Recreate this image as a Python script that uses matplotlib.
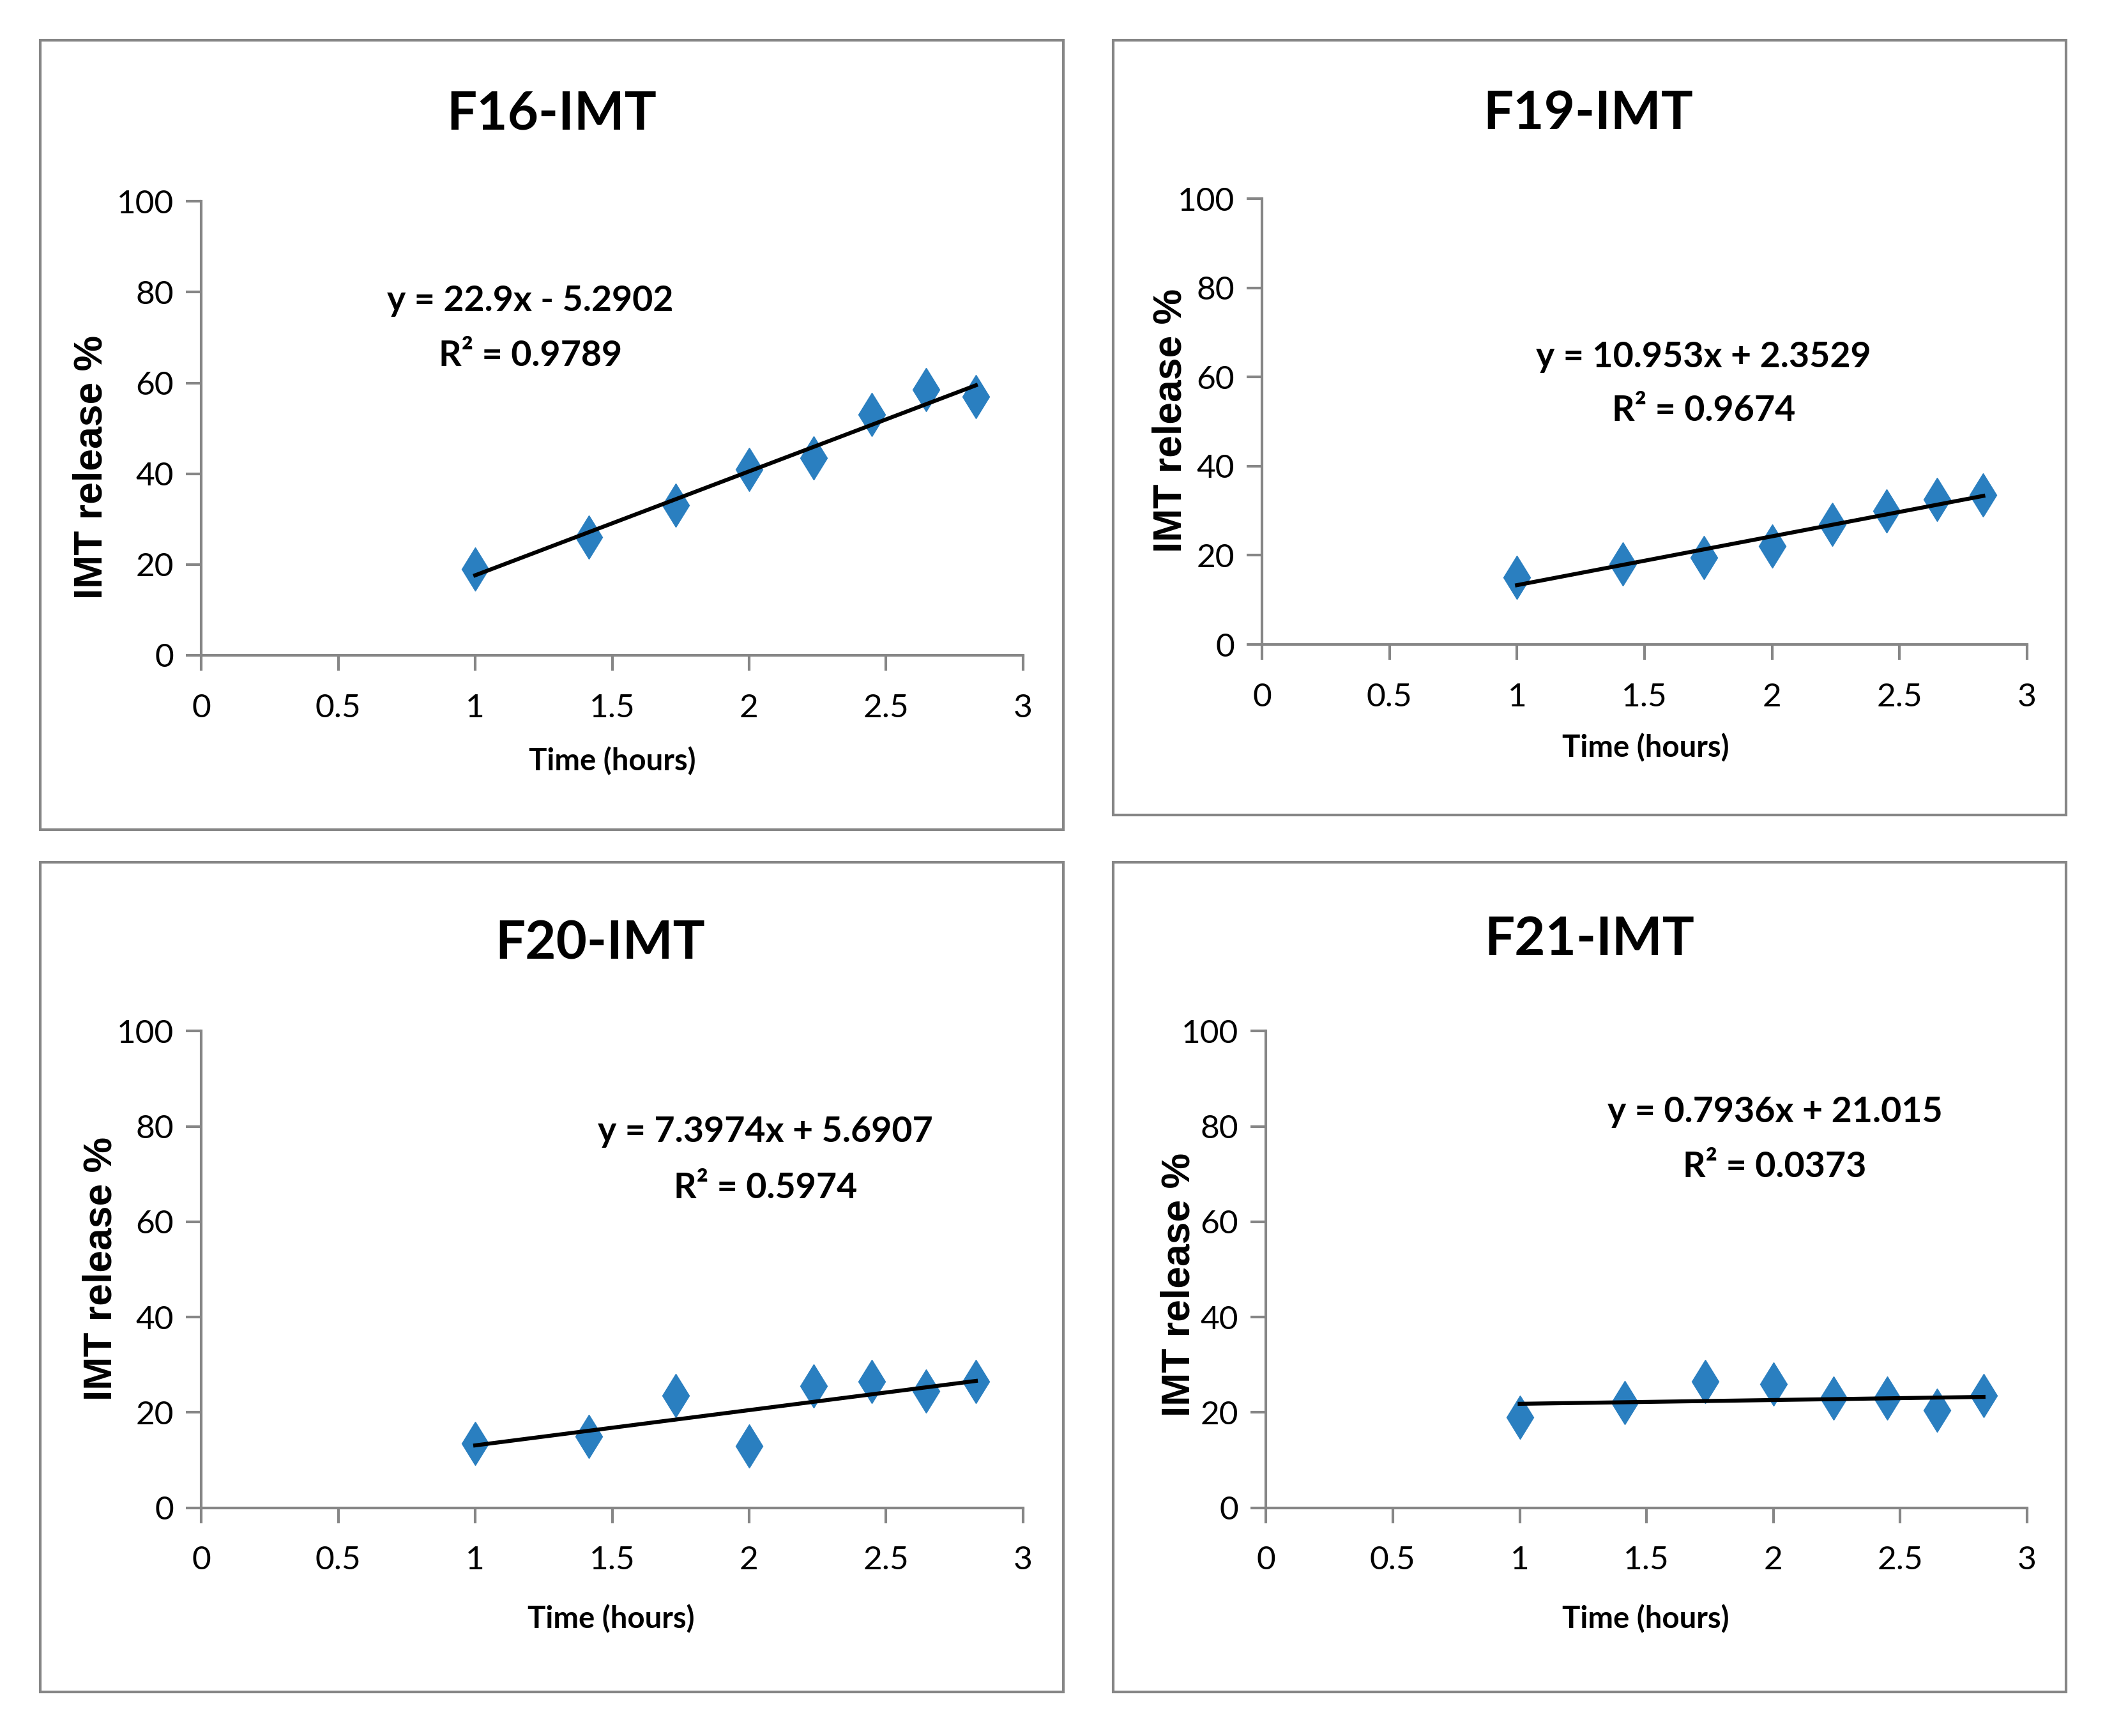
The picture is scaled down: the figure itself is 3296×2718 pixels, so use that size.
import matplotlib
matplotlib.use('Agg')
import matplotlib.pyplot as plt
from matplotlib.patches import Rectangle
import numpy as np

## DATA

titles = ['F16-IMT', 'F19-IMT', 'F20-IMT', 'F21-IMT']
time_x = [1.0, 1.414, 1.732, 2.0, 2.236, 2.449, 2.646, 2.828]
f16 = [19, 26, 33, 41, 43.5, 53, 58.5, 57]
f19 = [15, 18, 19.5, 22, 27, 30, 32.5, 33.5]
f20 = [13.5, 15, 23.5, 13, 25.5, 26.5, 24.5, 26.5]
f21 = [19, 22, 26.5, 26, 23, 23, 20.5, 23.5]
series = [f16, f19, f20, f21]
slopes = [22.9, 10.953, 7.3974, 0.7936]
intercepts = [-5.2902, 2.3529, 5.6907, 21.015]
eq_texts = ['y = 22.9x - 5.2902', 'y = 10.953x + 2.3529',
            'y = 7.3974x + 5.6907', 'y = 0.7936x + 21.015']
r2_texts = ['R² = 0.9789', 'R² = 0.9674', 'R² = 0.5974', 'R² = 0.0373']
x_ticks = [0, 0.5, 1, 1.5, 2, 2.5, 3]
x_ticklabels = ['0', '0.5', '1', '1.5', '2', '2.5', '3']
y_ticks = [0, 20, 40, 60, 80, 100]

## LAYOUT (measured on a 1568 x 1293 grid)

W, H = 1568.0, 1293.0
def fx(x):
    return x / W
def fy(y):
    return 1 - y / H

boxes = [(30, 30, 792, 618), (829, 30, 1539, 607),
         (30, 642, 792, 1260), (829, 642, 1539, 1260)]
axes_px = [(150, 150, 762, 488), (940, 148, 1510, 480),
           (150, 768, 762, 1123), (943, 768, 1510, 1123)]
title_pos = [(411, 85), (1183, 85), (447, 703), (1184, 700)]
ylab_pos = [(68, 348), (872, 313), (75, 945), (878, 957)]
xlab_pos = [(456, 567), (1226, 557), (455, 1206), (1226, 1206)]
eq_pos = [(395, 224), (1269, 266), (570, 843), (1322, 828)]
r2_pos = [(395, 265), (1269, 306), (570, 885), (1322, 869)]

narrow = ['Lato', 'DejaVu Sans']
gray = '#868686'
blue = '#2A7FC0'

fig = plt.figure(figsize=(32.96, 27.18), dpi=100)
fig.patch.set_facecolor('white')

for i in range(4):
    # panel frame
    x0, y0, x1, y1 = boxes[i]
    fig.patches.append(Rectangle((fx(x0), fy(y1)), fx(x1) - fx(x0), fy(y0) - fy(y1),
                                 transform=fig.transFigure, fill=False,
                                 edgecolor=gray, linewidth=3))

    l, t, r, b = axes_px[i]
    ax = fig.add_axes([fx(l), fy(b), fx(r) - fx(l), fy(t) - fy(b)])
    ax.set_xlim(0, 3)
    ax.set_ylim(0, 100)
    for s in ['top', 'right']:
        ax.spines[s].set_visible(False)
    for s in ['left', 'bottom']:
        ax.spines[s].set_color(gray)
        ax.spines[s].set_linewidth(3)
    ax.set_xticks(x_ticks)
    ax.set_xticklabels(x_ticklabels)
    ax.set_yticks(y_ticks)
    ax.tick_params(direction='out', length=17, width=3, color=gray,
                   labelsize=37)
    ax.tick_params(axis='x', pad=26)
    ax.tick_params(axis='y', pad=14)
    for lab in ax.get_xticklabels() + ax.get_yticklabels():
        lab.set_family(narrow)

    ax.plot(time_x, series[i], linestyle='none', marker='d',
            markersize=35, color=blue, zorder=3)
    # linear trendline
    xl = np.array([time_x[0], time_x[-1]])
    ax.plot(xl, slopes[i] * xl + intercepts[i], color='black',
            linewidth=4.5, zorder=4)

    fig.text(fx(title_pos[i][0]), fy(title_pos[i][1]), titles[i], ha='center',
             va='center', fontsize=60, fontweight='bold', family=narrow)
    fig.text(fx(ylab_pos[i][0]), fy(ylab_pos[i][1]), 'IMT release %', ha='center',
             va='center', rotation=90, fontsize=45, fontweight='bold',
             family=['Liberation Sans', 'DejaVu Sans'])
    fig.text(fx(xlab_pos[i][0]), fy(xlab_pos[i][1]), 'Time (hours)', ha='center',
             va='center', fontsize=34, fontweight='bold', family=narrow)
    fig.text(fx(eq_pos[i][0]), fy(eq_pos[i][1]), eq_texts[i], ha='center',
             va='center', fontsize=40, fontweight='bold', family=narrow)
    fig.text(fx(r2_pos[i][0]), fy(r2_pos[i][1]), r2_texts[i], ha='center',
             va='center', fontsize=40, fontweight='bold', family=narrow)

fig.savefig('out.png', dpi=100)
